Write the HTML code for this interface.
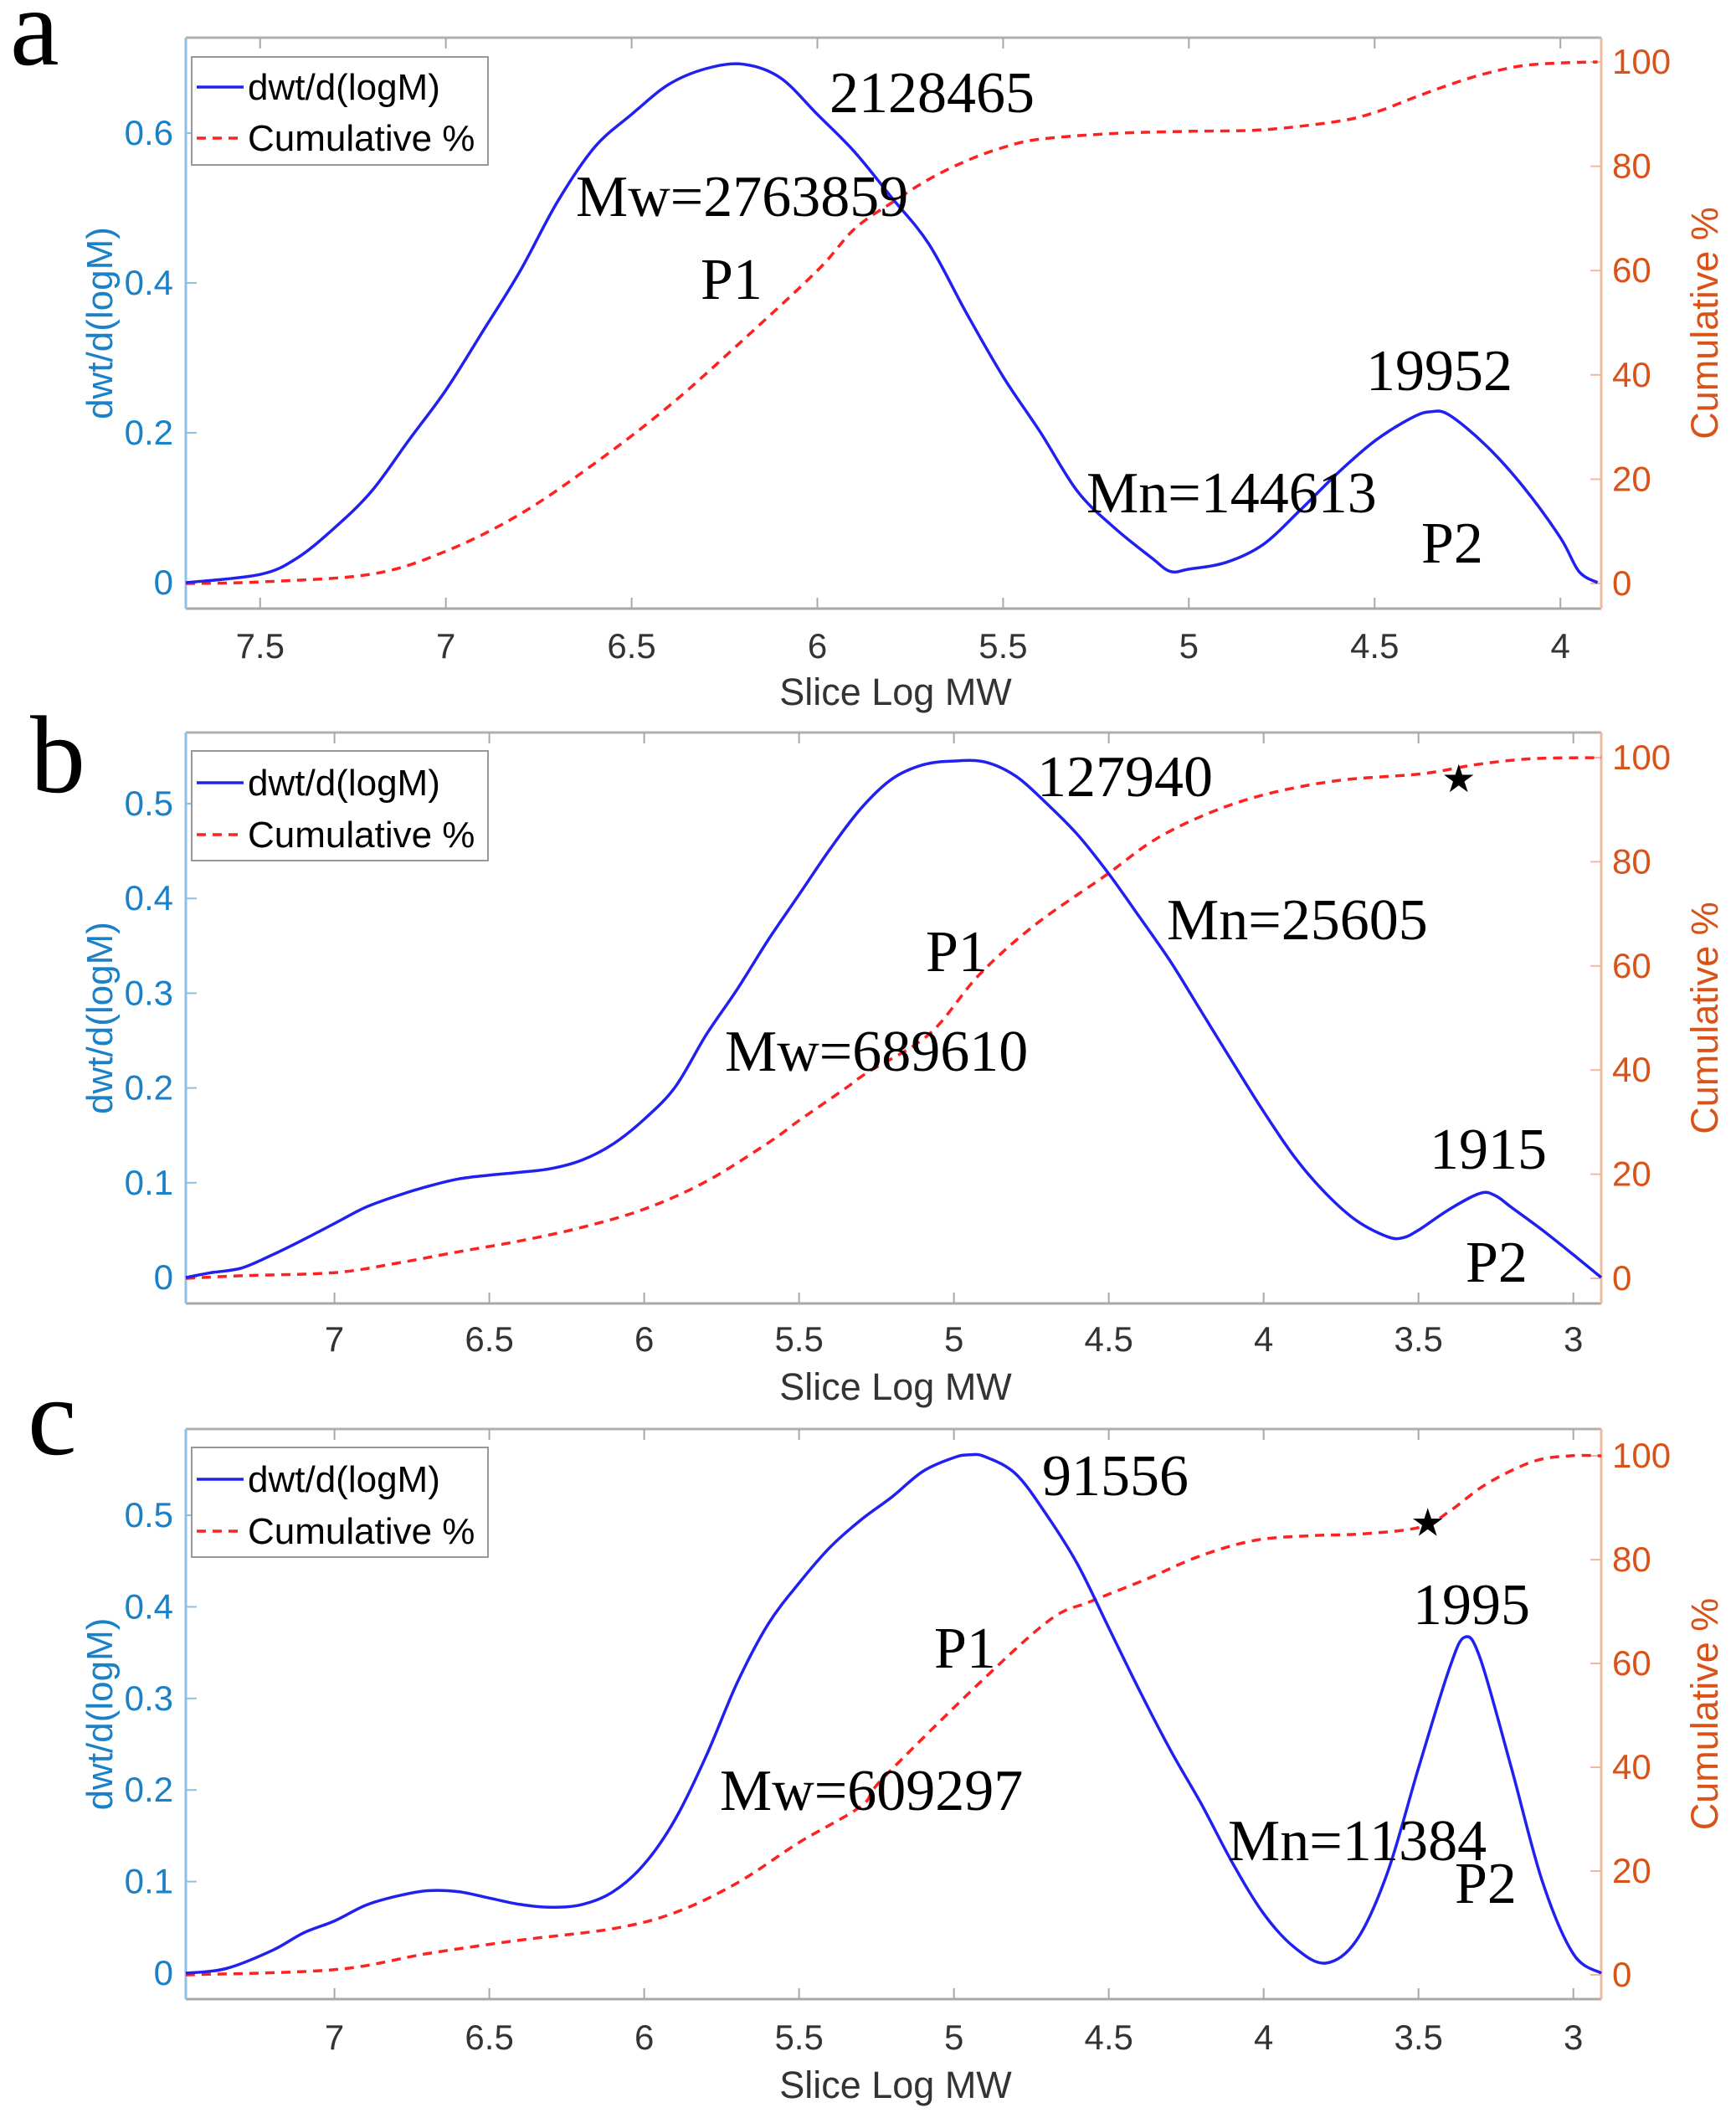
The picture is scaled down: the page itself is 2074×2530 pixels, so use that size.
<!DOCTYPE html>
<html><head><meta charset="utf-8"><style>
html,body{margin:0;padding:0;background:#fff;}
svg{display:block;}
</style></head><body>
<svg id="fig" xmlns="http://www.w3.org/2000/svg" width="2074" height="2530" viewBox="0 0 2074 2530"></svg>
<script>
// ---- Panel a data ----
const aDwtX = [7.7,7.5,7.4,7.3,7.2,7.1,7.0,6.9,6.8,6.7,6.6,6.5,6.4,6.3,6.2,6.1,6.0,5.9,5.8,5.7,5.6,5.5,5.4,5.3,5.2,5.1,5.05,5.0,4.9,4.8,4.7,4.6,4.5,4.4,4.35,4.3,4.2,4.1,4.0,3.95,3.9];
const aDwtY = [0,0.011,0.033,0.073,0.122,0.19,0.257,0.336,0.416,0.508,0.581,0.625,0.665,0.686,0.692,0.674,0.625,0.575,0.514,0.452,0.361,0.275,0.201,0.122,0.073,0.033,0.015,0.018,0.027,0.051,0.097,0.146,0.189,0.22,0.228,0.224,0.183,0.128,0.06,0.015,0];
const aCumX = [7.7,7.5,7.2,7.0,6.8,6.6,6.4,6.2,6.0,5.9,5.8,5.7,5.6,5.5,5.4,5.2,5.0,4.8,4.6,4.5,4.4,4.3,4.2,4.1,4.0,3.9];
const aCumY = [0,0.3,1.8,6.2,13.3,23,34,46.7,60,68,73,77.5,81,83.6,85.2,86.3,86.7,87,88.6,90.3,93,95.6,97.8,99.3,99.8,100];
// ---- Panel b data ----
const bDwtX = [7.48,7.4,7.3,7.2,7.1,7.0,6.9,6.8,6.7,6.6,6.5,6.4,6.3,6.2,6.1,6.0,5.9,5.8,5.7,5.6,5.5,5.4,5.3,5.2,5.1,5.0,4.9,4.8,4.7,4.6,4.5,4.4,4.3,4.2,4.1,4.0,3.9,3.8,3.7,3.6,3.55,3.5,3.4,3.3,3.25,3.2,3.1,3.0,2.91];
const bDwtY = [0,0.005,0.01,0.024,0.04,0.057,0.074,0.086,0.096,0.104,0.108,0.111,0.115,0.124,0.141,0.167,0.201,0.256,0.304,0.356,0.404,0.452,0.495,0.526,0.541,0.545,0.544,0.529,0.5,0.467,0.426,0.38,0.333,0.28,0.227,0.175,0.127,0.089,0.06,0.043,0.042,0.05,0.072,0.089,0.086,0.074,0.05,0.024,0];
const bCumX = [7.48,7.3,7.0,6.8,6.6,6.4,6.2,6.0,5.8,5.6,5.5,5.35,5.28,5.08,4.92,4.74,4.51,4.35,4.17,3.99,3.76,3.49,3.31,3.13,2.91];
const bCumY = [0,0.5,1.1,2.9,5.1,7.2,9.8,13.3,18.6,26,30.3,36.5,39.5,46.9,58.2,67.8,77.4,84.3,89.5,93.0,95.6,96.9,98.7,99.8,100];
// ---- Panel c data ----
const cDwtX = [7.48,7.35,7.2,7.1,7.0,6.9,6.8,6.7,6.6,6.5,6.4,6.3,6.2,6.1,6.0,5.9,5.8,5.7,5.6,5.5,5.4,5.3,5.2,5.1,5.0,4.95,4.9,4.8,4.7,4.6,4.5,4.4,4.3,4.2,4.1,4.0,3.9,3.8,3.7,3.6,3.5,3.4,3.35,3.3,3.2,3.1,3.0,2.91];
const cDwtY = [0,0.005,0.025,0.044,0.057,0.074,0.084,0.09,0.089,0.082,0.075,0.072,0.075,0.089,0.119,0.168,0.237,0.317,0.381,0.426,0.465,0.495,0.52,0.548,0.563,0.566,0.564,0.545,0.5,0.446,0.377,0.308,0.243,0.184,0.12,0.065,0.028,0.011,0.036,0.11,0.224,0.333,0.367,0.343,0.224,0.1,0.021,0];
const cCumX = [7.48,7.0,6.7,6.4,6.1,5.9,5.7,5.5,5.3,5.23,4.92,4.69,4.56,4.38,4.21,4.03,3.85,3.67,3.49,3.40,3.28,3.13,3.01,2.91];
const cCumY = [0,1.0,4.1,6.7,8.9,12,17.7,25.5,32.5,37.8,56.1,68.4,71.9,76.2,80.6,83.7,84.6,85.0,86.3,89.3,94.6,98.9,100,100];
// ticks
const aXTicks = [7.5,7,6.5,6,5.5,5,4.5,4];
const bXTicks = [7,6.5,6,5.5,5,4.5,4,3.5,3];
const aYTicks = [0,0.2,0.4,0.6];
const bYTicks = [0,0.1,0.2,0.3,0.4,0.5];
const rTicks = [0,20,40,60,80,100];
// annotations
const aNotes = ["2128465","Mw=2763859","P1","19952","Mn=144613","P2"];
const bNotes = ["127940","Mn=25605","P1","Mw=689610","1915","P2"];
const cNotes = ["91556","P1","Mw=609297","1995","Mn=11384","P2"];
const bStar = [3.37, 96];
const cStar = [3.47, 87.2];

const NS = "http://www.w3.org/2000/svg";
const svg = document.getElementById('fig');
function mk(tag, attrs, parent){
  const e = document.createElementNS(NS, tag);
  for (const k in attrs) e.setAttribute(k, attrs[k]);
  (parent||svg).appendChild(e);
  return e;
}
function txt(s, attrs, parent){ const t = mk('text', attrs, parent); t.textContent = s; return t; }
function smooth(pts){
  let d = 'M' + pts[0][0].toFixed(1) + ',' + pts[0][1].toFixed(1);
  for (let i = 0; i < pts.length - 1; i++) {
    const p0 = pts[Math.max(0, i-1)], p1 = pts[i], p2 = pts[i+1], p3 = pts[Math.min(pts.length-1, i+2)];
    const c1x = p1[0] + (p2[0]-p0[0])/6, c1y = p1[1] + (p2[1]-p0[1])/6;
    const c2x = p2[0] - (p3[0]-p1[0])/6, c2y = p2[1] - (p3[1]-p1[1])/6;
    d += 'C' + c1x.toFixed(1)+','+c1y.toFixed(1)+' '+c2x.toFixed(1)+','+c2y.toFixed(1)+' '+p2[0].toFixed(1)+','+p2[1].toFixed(1);
  }
  return d;
}

const panels = [
  {id:'a', letter:'a', lx:12, ly:77, L:222, R:1913, T:45, B:727, x0:7.7, x1:3.89,
   yZero:696, yPerUnit:895, rZero:697, rTop:74, xT:aXTicks, yT:aYTicks, ydec:1,
   legT:68, legB:197, row1:104, row2:165, tickY:786, labY:842,
   dX:aDwtX, dY:aDwtY, cX:aCumX, cY:aCumY, notes:aNotes,
   pos:[[991,134],[688,258],[837,357],[1632,466],[1298,612],[1698,672]], star:null},
  {id:'b', letter:'b', lx:36, ly:946, L:222, R:1913, T:875, B:1557, x0:7.48, x1:2.91,
   yZero:1526, yPerUnit:1132, rZero:1527, rTop:905, xT:bXTicks, yT:bYTicks, ydec:1,
   legT:897, legB:1028, row1:935, row2:997, tickY:1614, labY:1672,
   dX:bDwtX, dY:bDwtY, cX:bCumX, cY:bCumY, notes:bNotes,
   pos:[[1239,951],[1394,1122],[1106,1160],[866,1279],[1708,1396],[1751,1531]], star:bStar},
  {id:'c', letter:'c', lx:33, ly:1737, L:222, R:1913, T:1707, B:2388, x0:7.48, x1:2.91,
   yZero:2357, yPerUnit:1094, rZero:2359, rTop:1739, xT:bXTicks, yT:bYTicks, ydec:1,
   legT:1729, legB:1860, row1:1767, row2:1829, tickY:2448, labY:2506,
   dX:cDwtX, dY:cDwtY, cX:cCumX, cY:cCumY, notes:cNotes,
   pos:[[1245,1786],[1116,1992],[860,2162],[1688,1940],[1467,2222],[1738,2273]], star:cStar}
];

const BLUE_AX = '#1a80c8', ORANGE = '#d95319';
panels.forEach(p => {
  const g = mk('g', {});
  
  
  const xs = v => p.L + (p.x0 - v) / (p.x0 - p.x1) * (p.R - p.L);
  const ys = v => p.yZero - v * p.yPerUnit;
  const rs = v => p.rZero - v / 100 * (p.rZero - p.rTop);

  const lt = txt(p.letter, {x:p.lx, y:p.ly, 'font-family':'Liberation Serif, serif', 'font-size':132, fill:'#000'}, g);
  
  

  const top = mk('line', {x1:p.L, y1:p.T, x2:p.R, y2:p.T, stroke:'#b0b0b0', 'stroke-width':3}, g);
  
  
  const bot = mk('line', {x1:p.L, y1:p.B, x2:p.R, y2:p.B, stroke:'#a8a8a8', 'stroke-width':3}, g);
  
  
  const la = mk('line', {x1:p.L, y1:p.T, x2:p.L, y2:p.B, stroke:'#8ec0e4', 'stroke-width':3}, g);
  
  
  const ra = mk('line', {x1:p.R, y1:p.T, x2:p.R, y2:p.B, stroke:'#f0b8a0', 'stroke-width':3}, g);
  
  

  p.xT.forEach(v => {
    const x = xs(v);
    mk('line', {x1:x, y1:p.B, x2:x, y2:p.B-13, stroke:'#a8a8a8', 'stroke-width':2}, g);
    mk('line', {x1:x, y1:p.T, x2:x, y2:p.T+13, stroke:'#a8a8a8', 'stroke-width':2}, g);
    const t = txt(String(v), {x:x, y:p.tickY, 'text-anchor':'middle', 'font-family':'Liberation Sans, sans-serif', 'font-size':42, fill:'#333'}, g);
    
    
  });
  p.yT.forEach(v => {
    const y = ys(v);
    mk('line', {x1:p.L, y1:y, x2:p.L+13, y2:y, stroke:'#8ec0e4', 'stroke-width':2}, g);
    const t = txt(v === 0 ? '0' : v.toFixed(p.ydec), {x:207, y:y+14, 'text-anchor':'end', 'font-family':'Liberation Sans, sans-serif', 'font-size':42, fill:BLUE_AX}, g);
    
    
  });
  rTicks.forEach(v => {
    const y = rs(v);
    mk('line', {x1:p.R, y1:y, x2:p.R-13, y2:y, stroke:'#f0b8a0', 'stroke-width':2}, g);
    const t = txt(String(v), {x:1926, y:y+14, 'font-family':'Liberation Sans, sans-serif', 'font-size':42, fill:ORANGE}, g);
    
    
  });
  const xl = txt('Slice Log MW', {x:1070, y:p.labY, 'text-anchor':'middle', 'font-family':'Liberation Sans, sans-serif', 'font-size':45, fill:'#333'}, g);
  
  
  const my = (p.T + p.B) / 2;
  const yl = txt('dwt/d(logM)', {x:0, y:0, transform:`translate(134,${my}) rotate(-90)`, 'text-anchor':'middle', 'font-family':'Liberation Sans, sans-serif', 'font-size':44, fill:BLUE_AX}, g);
  
  
  const yr = txt('Cumulative %', {x:0, y:0, transform:`translate(2052,${my}) rotate(-90)`, 'text-anchor':'middle', 'font-family':'Liberation Sans, sans-serif', 'font-size':45, fill:ORANGE}, g);
  
  

  const cum = mk('path', {d: smooth(p.cX.map((v,i) => [xs(v), rs(p.cY[i])])), fill:'none', stroke:'#ff2020', 'stroke-width':3.5, 'stroke-dasharray':'11 8'}, g);
  
  
  const dw = mk('path', {d: smooth(p.dX.map((v,i) => [xs(v), ys(p.dY[i])])), fill:'none', stroke:'#2020f0', 'stroke-width':3.5, 'stroke-linejoin':'round'}, g);
  
  

  if (p.star) {
    const st = txt('★', {x:xs(p.star[0]), y:rs(p.star[1])+16, 'text-anchor':'middle', 'font-family':'DejaVu Sans, sans-serif', 'font-size':46, fill:'#000'}, g);
    
    
  }

  p.notes.forEach((s, i) => {
    const t = txt(s, {x:p.pos[i][0], y:p.pos[i][1], 'font-family':'Liberation Serif, serif', 'font-size':70, fill:'#000'}, g);
    
    
  });

  const lg = mk('g', {}, g);
  
  
  mk('rect', {x:229, y:p.legT, width:354, height:p.legB-p.legT, fill:'#fff', stroke:'#999', 'stroke-width':2}, lg);
  mk('line', {x1:235, y1:p.row1, x2:291, y2:p.row1, stroke:'#2020f0', 'stroke-width':3.5}, lg);
  mk('line', {x1:235, y1:p.row2, x2:291, y2:p.row2, stroke:'#ff2020', 'stroke-width':3.5, 'stroke-dasharray':'11 8'}, lg);
  const e1 = txt('dwt/d(logM)', {x:296, y:p.row1+15, 'font-family':'Liberation Sans, sans-serif', 'font-size':44, fill:'#000'}, lg);
  
  
  const e2 = txt('Cumulative %', {x:296, y:p.row2+15, 'font-family':'Liberation Sans, sans-serif', 'font-size':44, fill:'#000'}, lg);
  
  
});
</script>
</body></html>
